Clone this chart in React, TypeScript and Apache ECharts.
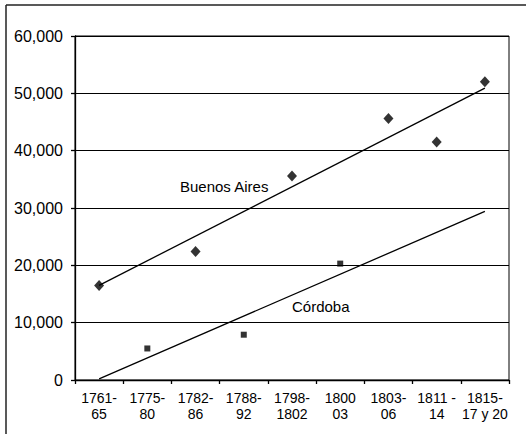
import React, { useEffect, useRef } from "react";
import * as echarts from "echarts";

const categories = [
  "1761-\n65",
  "1775-\n80",
  "1782-\n86",
  "1788-\n92",
  "1798-\n1802",
  "1800\n03",
  "1803-\n06",
  "1811 -\n14",
  "1815-\n17 y 20",
];

const buenosAires: (number | string)[] = [16500, "-", 22400, "-", 35600, "-", 45600, 41500, 52000];
const cordoba: (number | string)[] = ["-", 5500, "-", 7900, "-", 20300, "-", "-", "-"];

// trend lines: [category index, value]
const buenosAiresTrend: [number, number][] = [
  [0, 16500],
  [8, 50900],
];
const cordobaTrend: [number, number][] = [
  [0, 200],
  [8, 29400],
];

const yTicks = { min: 0, max: 60000, interval: 10000 };

export default function App() {
  const ref = useRef<HTMLDivElement>(null);
  useEffect(() => {
    if (!ref.current) return;
    const chart = echarts.init(ref.current, null, { renderer: "svg" });
    const font = "'Liberation Sans', Arial, sans-serif";
    chart.setOption({
      animation: false,
      backgroundColor: "#ffffff",
      grid: {
        left: 75,
        top: 36,
        right: 18,
        bottom: 58,
        show: true,
        borderColor: "#000",
        borderWidth: 1,
      },
      xAxis: {
        type: "category",
        data: categories,
        boundaryGap: true,
        axisLine: { lineStyle: { color: "#000", width: 1.3 } },
        axisTick: { show: true, inside: false, length: 4, lineStyle: { color: "#000", width: 1.3 } },
        axisLabel: {
          interval: 0,
          color: "#000",
          fontFamily: font,
          fontSize: 14,
          lineHeight: 16,
          margin: 10,
        },
        splitLine: { show: false },
      },
      yAxis: {
        type: "value",
        min: yTicks.min,
        max: yTicks.max,
        interval: yTicks.interval,
        axisLine: { show: true, lineStyle: { color: "#000", width: 1.3 } },
        axisTick: { show: true, length: 4, lineStyle: { color: "#000", width: 1.3 } },
        axisLabel: {
          color: "#000",
          fontFamily: font,
          fontSize: 16,
          margin: 12,
          formatter: (v: number) => v.toLocaleString("en-US"),
        },
        splitLine: { show: true, lineStyle: { color: "#000", width: 1.2 } },
      },
      series: [
        {
          type: "line",
          data: buenosAiresTrend,
          symbol: "none",
          lineStyle: { color: "#000", width: 1.3 },
          z: 3,
        },
        {
          type: "line",
          data: cordobaTrend,
          symbol: "none",
          lineStyle: { color: "#000", width: 1.3 },
          z: 3,
        },
        {
          type: "scatter",
          data: buenosAires,
          symbol: "diamond",
          symbolSize: [10, 11],
          itemStyle: { color: "#000" },
          z: 4,
        },
        {
          type: "scatter",
          data: cordoba,
          symbol: "rect",
          symbolSize: 6,
          itemStyle: { color: "#000" },
          z: 4,
        },
      ],
      graphic: [
        { type: "line", shape: { x1: 6, y1: 5, x2: 526, y2: 5 }, style: { stroke: "#222", lineWidth: 1.5 } },
        { type: "line", shape: { x1: 6, y1: 5, x2: 6, y2: 434 }, style: { stroke: "#222", lineWidth: 1.5 } },
        {
          type: "text",
          left: 180,
          top: 179,
          style: { text: "Buenos Aires", fill: "#000", font: `15px ${font}` },
        },
        {
          type: "text",
          left: 292,
          top: 299,
          style: { text: "Córdoba", fill: "#000", font: `15px ${font}` },
        },
      ],
    });
    return () => chart.dispose();
  }, []);
  return (
    <div
      ref={ref}
      style={{ position: "absolute", left: 0, top: 0, width: 527, height: 438 }}
    />
  );
}
